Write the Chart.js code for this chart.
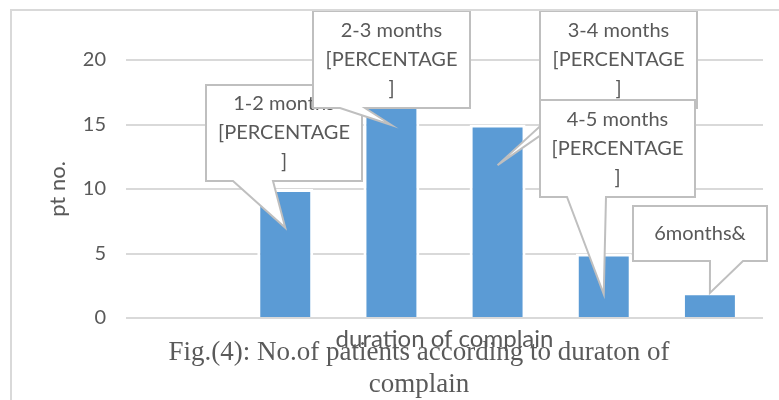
<!DOCTYPE html>
<html>
<head>
<meta charset="utf-8">
<script src="https://cdn.jsdelivr.net/npm/chart.js@4"></script>
<style>
    html, body { margin: 0; padding: 0; background: #fff; }
    #wrap { position: relative; width: 779px; height: 400px; overflow: hidden; }
    #frame { position: absolute; left: 10px; top: 9px; width: 800px; height: 420px; border: 2px solid #d9d9d9; box-sizing: border-box; }
    #caption {
        position: absolute; left: 0; top: 335px; width: 838px; text-align: center;
        font-family: "Liberation Serif", "Times New Roman", serif; font-size: 27px;
        line-height: 32px; color: #5a5a5a;
    }
</style>
</head>
<body>
<div id="wrap">
    <div id="frame"></div>
    <canvas id="durationChart" width="779" height="400"></canvas>
    <div id="caption">Fig.(4): No.of patients according to duraton of<br>complain</div>
</div>
<script>
// données
const categories = ['', '1-2 months', '2-3 months', '3-4 months', '4-5 months', '6months&'];
const patients = [0, 10, 17, 15, 5, 2];
const yTicks = [0, 5, 10, 15, 20];
const calloutTexts = [
    null,
    ['1-2 months', '[PERCENTAGE', ']'],
    ['2-3 months', '[PERCENTAGE', ']'],
    ['3-4 months', '[PERCENTAGE', ']'],
    ['4-5 months', '[PERCENTAGE', ']'],
    ['6months&']
];

// position des bulles (mise en page seulement)
const calloutBoxes = [
    null,
    { x1: 206, y1: 85, x2: 362, y2: 181, b1: 233, b2: 273, frac: 0.7 },
    { x1: 313, y1: 11, x2: 470, y2: 108, b1: 340, b2: 365, frac: 0.88 },
    { x1: 540, y1: 11, x2: 697, y2: 108, b1: 560, b2: 580, frac: 0.79 },
    { x1: 540, y1: 100, x2: 695, y2: 197, b1: 567, b2: 606, frac: 0.37 },
    { x1: 633, y1: 206, x2: 767, y2: 261, b1: 710, b2: 743, frac: 0.97 }
];

const textColor = '#595959';
const fontFamily = 'Lato, "Noto Sans", sans-serif';

/**
 * Dessiner les bulles de légende (callouts)
 */
const calloutPlugin = {
    id: 'callouts',
    afterDatasetsDraw(chart) {
        const ctx = chart.ctx;
        const meta = chart.getDatasetMeta(0);
        const yScale = chart.scales.y;
        ctx.save();
        ctx.font = '20px ' + fontFamily;
        ctx.textAlign = 'center';
        ctx.textBaseline = 'middle';
        calloutBoxes.forEach((box, i) => {
            if (!box) return;
            const bar = meta.data[i];
            const tipX = bar.x;
            const tipY = yScale.getPixelForValue(patients[i] * box.frac);

            ctx.beginPath();
            ctx.moveTo(box.x1, box.y1);
            ctx.lineTo(box.x2, box.y1);
            ctx.lineTo(box.x2, box.y2);
            ctx.lineTo(box.b2, box.y2);
            ctx.lineTo(tipX, tipY);
            ctx.lineTo(box.b1, box.y2);
            ctx.lineTo(box.x1, box.y2);
            ctx.closePath();
            ctx.fillStyle = '#ffffff';
            ctx.fill();
            ctx.strokeStyle = '#bfbfbf';
            ctx.lineWidth = 2;
            ctx.stroke();

            const lines = calloutTexts[i];
            const lh = 29;
            const cy = (box.y1 + box.y2) / 2 - (lines.length - 1) * lh / 2;
            ctx.fillStyle = textColor;
            lines.forEach((t, k) => {
                ctx.fillText(t, (box.x1 + box.x2) / 2, cy + k * lh);
            });
        });
        ctx.restore();
    }
};

new Chart(document.getElementById('durationChart').getContext('2d'), {
    type: 'bar',
    data: {
        labels: categories,
        datasets: [{
            label: 'pt no.',
            data: patients,
            backgroundColor: '#5b9bd5',
            borderColor: '#ffffff',
            borderWidth: 3,
            categoryPercentage: 1,
            barPercentage: 0.527
        }]
    },
    options: {
        responsive: false,
        animation: false,
        layout: {
            padding: { left: 11, right: 16, top: 60, bottom: 42 }
        },
        plugins: {
            legend: { display: false },
            tooltip: { enabled: false }
        },
        scales: {
            x: {
                grid: { display: false },
                border: { display: false },
                ticks: { display: false },
                title: {
                    display: true,
                    text: 'duration of complain',
                    color: textColor,
                    font: { family: fontFamily, size: 24 },
                    padding: { top: 0, bottom: 4 }
                },
                afterFit: s => { s.height = 40; }
            },
            y: {
                min: 0,
                max: 20,
                afterBuildTicks: s => { s.ticks = yTicks.map(v => ({ value: v })); },
                grid: { color: '#d9d9d9', lineWidth: 2, drawTicks: false },
                border: { display: false },
                ticks: {
                    color: textColor,
                    padding: 20,
                    font: { family: fontFamily, size: 20 }
                },
                title: {
                    display: true,
                    text: 'pt no.',
                    color: textColor,
                    font: { family: fontFamily, size: 22 },
                    padding: { top: 34, bottom: 0 }
                },
                afterFit: s => { s.width = 115; }
            }
        }
    },
    plugins: [calloutPlugin]
});
</script>
</body>
</html>
